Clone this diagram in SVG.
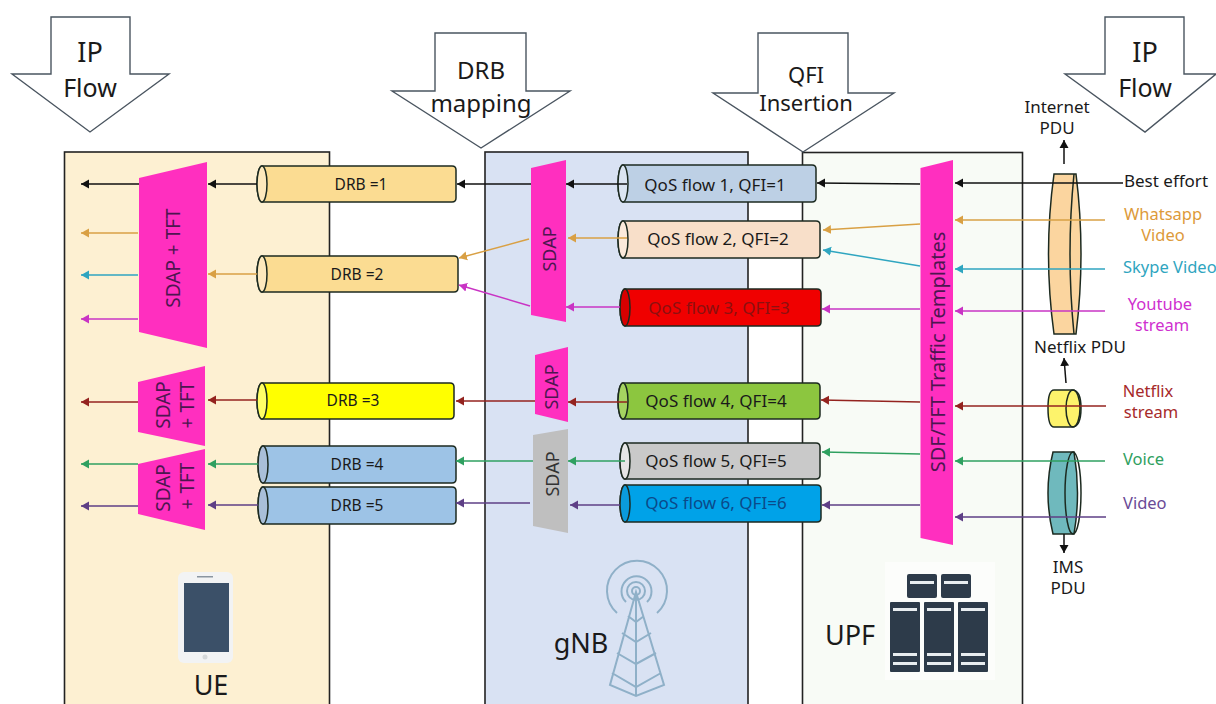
<svg xmlns="http://www.w3.org/2000/svg" width="1216" height="704" viewBox="0 0 1216 704">
<style>
text{font-family:"Noto Sans","Open Sans","Liberation Sans",sans-serif;fill:#1a1a1a}
.m{text-anchor:middle}
.big{font-size:27px}.arr{font-size:24px}.lab{font-size:15.5px}.q{font-size:17px}.o16{font-size:16.5px}.s{font-size:17px}
.side{font-size:18px;text-anchor:middle;dominant-baseline:central;fill:#4d1650}
.pane{stroke:#222;stroke-width:1.6}
.ar{fill:#fff;stroke:#4a5560;stroke-width:1.4}
.cy{stroke:#1c2a20;stroke-width:1.5}
.pk{fill:#ff2fbf}
.sv{fill:#2d3b4a}.st{fill:#e8edf0}
.tw{fill:none;stroke:#8fb0c8;stroke-width:2}
line,polyline{fill:none;stroke-width:1.5}
.k{stroke:#111;marker-end:url(#mk)}.o{stroke:#d9a044;marker-end:url(#mo)}.b{stroke:#2fa5c0;marker-end:url(#mb)}
.p{stroke:#c934c4;marker-end:url(#mp)}.r{stroke:#94231f;marker-end:url(#mr)}.g{stroke:#2fa060;marker-end:url(#mg)}.v{stroke:#5e3f86;marker-end:url(#mv)}
</style>
<defs>
<marker id="mk" markerUnits="userSpaceOnUse" markerWidth="9" markerHeight="10" refX="8" refY="5" orient="auto"><path d="M8,5L0,0.5V9.5Z" fill="#111"/></marker>
<marker id="mo" markerUnits="userSpaceOnUse" markerWidth="9" markerHeight="10" refX="8" refY="5" orient="auto"><path d="M8,5L0,0.5V9.5Z" fill="#d9a044"/></marker>
<marker id="mb" markerUnits="userSpaceOnUse" markerWidth="9" markerHeight="10" refX="8" refY="5" orient="auto"><path d="M8,5L0,0.5V9.5Z" fill="#2fa5c0"/></marker>
<marker id="mp" markerUnits="userSpaceOnUse" markerWidth="9" markerHeight="10" refX="8" refY="5" orient="auto"><path d="M8,5L0,0.5V9.5Z" fill="#c934c4"/></marker>
<marker id="mr" markerUnits="userSpaceOnUse" markerWidth="9" markerHeight="10" refX="8" refY="5" orient="auto"><path d="M8,5L0,0.5V9.5Z" fill="#94231f"/></marker>
<marker id="mg" markerUnits="userSpaceOnUse" markerWidth="9" markerHeight="10" refX="8" refY="5" orient="auto"><path d="M8,5L0,0.5V9.5Z" fill="#2fa060"/></marker>
<marker id="mv" markerUnits="userSpaceOnUse" markerWidth="9" markerHeight="10" refX="8" refY="5" orient="auto"><path d="M8,5L0,0.5V9.5Z" fill="#5e3f86"/></marker>
</defs>
<rect width="1216" height="704" fill="#fff"/>

<g id="ue"><rect class="pane" x="64.5" y="152" width="265" height="570" fill="#fdf0d2"/>
<rect x="178" y="572" width="55" height="91" rx="6" fill="#f2f3f4"/><rect x="184" y="583" width="45" height="69" fill="#3b5068"/><circle cx="205" cy="657" r="2.5" fill="#d5d8da"/><rect x="197" y="576" width="16" height="1.5" fill="#8a95a0"/>
<text class="big m" x="211" y="695">UE</text></g>
<g id="gnb"><rect class="pane" x="485" y="152" width="263" height="570" fill="#d9e2f3"/>
<g id="tower"><path class="tw" d="M636,592L610,685L636,696L664,685Z M636,592V696 M628,616L636,622L644,616 M622,633L636,642L651,633 M617,653L636,664L656,653 M612,673L636,687L661,673"/><path class="tw" d="M617,613A30,30 0 1 1 657,613 M626,602A15,15 0 1 1 647,602"/><circle class="tw" cx="636" cy="591" r="9"/><circle class="tw" cx="636" cy="591" r="4"/></g>
<text class="big m" x="581" y="653">gNB</text></g>
<g id="upf"><rect class="pane" x="802.5" y="152.5" width="220" height="570" fill="#f8fbf6"/>
<rect x="885" y="562" width="110" height="118" fill="#fcfdfb"/>
<g id="servers"><rect class="sv" x="907" y="574" width="30" height="24" rx="2"/><rect class="sv" x="941" y="574" width="30" height="24" rx="2"/><rect class="sv" x="890" y="602" width="30" height="70" rx="1"/><rect class="sv" x="924" y="602" width="30" height="70" rx="1"/><rect class="sv" x="958" y="602" width="30" height="70" rx="1"/>
<rect class="st" x="910" y="581" width="24" height="3"/><rect class="st" x="944" y="581" width="24" height="3"/>
<rect class="st" x="893" y="608" width="24" height="3"/><rect class="st" x="927" y="608" width="24" height="3"/><rect class="st" x="961" y="608" width="24" height="3"/>
<rect class="st" x="893" y="653" width="24" height="3"/><rect class="st" x="927" y="653" width="24" height="3"/><rect class="st" x="961" y="653" width="24" height="3"/>
<rect class="st" x="893" y="662" width="24" height="3"/><rect class="st" x="927" y="662" width="24" height="3"/><rect class="st" x="961" y="662" width="24" height="3"/></g>
<text class="big" x="825" y="645">UPF</text></g>

<g id="arrow-ip-left"><path class="ar" d="M51,17H130V74H169L90,132L12,74H51Z"/><text class="big m" x="90" y="62">IP</text><text class="big m" x="90" y="97" style="font-size:25px">Flow</text></g>
<g id="arrow-drb"><path class="ar" d="M435,33H526V91H570L481,148L392,91H435Z"/><text class="arr m" x="481" y="79">DRB</text><text class="arr m" x="481" y="112">mapping</text></g>
<g id="arrow-qfi"><path class="ar" d="M758,33H848V93H894L803,152L713,93H758Z"/><text class="arr m" x="806" y="83" style="font-size:22px">QFI</text><text class="arr m" x="806" y="111" style="font-size:22px">Insertion</text></g>
<g id="arrow-ip-right"><path class="ar" d="M1105,17H1184V74H1216L1145,132L1065,74H1105Z"/><text class="big m" x="1145" y="62">IP</text><text class="big m" x="1145" y="97" style="font-size:25px">Flow</text></g>

<g id="sdap-tft-1"><path class="pk" d="M139,178L207,162V348L139,332Z"/><text class="side" transform="translate(172.500 258) rotate(-90)" style="font-size:19px">SDAP + TFT</text></g>
<g id="sdap-tft-2"><path class="pk" d="M138,382L205,366V446L138,432Z"/><text class="side" transform="translate(163 405) rotate(-90)" style="font-size:19px">SDAP</text><text class="side" transform="translate(187 405) rotate(-90)" style="font-size:19px">+ TFT</text></g>
<g id="sdap-tft-3"><path class="pk" d="M138,464L205,449V530L138,514Z"/><text class="side" transform="translate(163 488) rotate(-90)" style="font-size:19px">SDAP</text><text class="side" transform="translate(187 486) rotate(-90)" style="font-size:19px">+ TFT</text></g>
<g id="sdap-1"><path class="pk" d="M531,168L566,160V322L531,315Z"/><text class="side" transform="translate(549 249) rotate(-90)">SDAP</text></g>
<g id="sdap-2"><path class="pk" d="M535,355L568,347V422L535,414Z"/><text class="side" transform="translate(551 387) rotate(-90)">SDAP</text></g>
<g id="sdap-3"><path fill="#bfbfbf" d="M533,435L568,429V533L533,526Z"/><text class="side" transform="translate(552 474) rotate(-90)" style="fill:#333">SDAP</text></g>
<g id="sdf-tft"><path class="pk" d="M920.500,168L953,160V545L920.500,538Z"/><text class="side" transform="translate(937 352) rotate(-90)" style="font-size:20px">SDF/TFT Traffic Templates</text></g>

<g id="drb-1"><path class="cy" fill="#fbdc92" d="M262,166H452Q456,166 456,170V198Q456,202 452,202H262A5,18 0 0 1 262,166Z"/><ellipse class="cy" cx="262" cy="184" rx="5" ry="18" fill="#fde9bd"/><text class="lab m" x="361" y="190">DRB =1</text></g>
<g id="drb-2"><path class="cy" fill="#fbdc92" d="M262,256H454Q458,256 458,260V288Q458,292 454,292H262A5,18 0 0 1 262,256Z"/><ellipse class="cy" cx="262" cy="274" rx="5" ry="18" fill="#fde9bd"/><text class="lab m" x="357" y="280">DRB =2</text></g>
<g id="drb-3"><path class="cy" fill="#ffff00" d="M262,383H450Q454,383 454,387V415Q454,419 450,419H262A5,18 0 0 1 262,383Z"/><ellipse class="cy" cx="262" cy="401" rx="5" ry="18" fill="#ffff66"/><text class="lab m" x="353" y="406">DRB =3</text></g>
<g id="drb-4"><path class="cy" fill="#9dc3e6" d="M263,446H452Q456,446 456,450V479Q456,483 452,483H263A5,18.500 0 0 1 263,446Z"/><ellipse class="cy" cx="263" cy="464.500" rx="5" ry="18.500" fill="#a9bfd8"/><text class="lab m" x="357" y="470">DRB =4</text></g>
<g id="drb-5"><path class="cy" fill="#9dc3e6" d="M263,487H452Q456,487 456,491V520Q456,524 452,524H263A5,18.500 0 0 1 263,487Z"/><ellipse class="cy" cx="263" cy="505.500" rx="5" ry="18.500" fill="#a9bfd8"/><text class="lab m" x="357" y="511">DRB =5</text></g>

<g id="qos-1"><path class="cy" fill="#bdd0e5" d="M623,165H812Q816,165 816,169V198Q816,202 812,202H623A5,18.500 0 0 1 623,165Z"/><ellipse class="cy" cx="623" cy="183.500" rx="5" ry="18.500" fill="#dbe5f1"/><text class="q m" x="715" y="191">QoS flow 1, QFI=1</text></g>
<g id="qos-2"><path class="cy" fill="#f8dfc9" d="M623,221H816Q820,221 820,225V254Q820,258 816,258H623A5,18.500 0 0 1 623,221Z"/><ellipse class="cy" cx="623" cy="239.500" rx="5" ry="18.500" fill="#fbeadb"/><text class="q m" x="718" y="245">QoS flow 2, QFI=2</text></g>
<g id="qos-3"><path class="cy" fill="#f00000" d="M625,289H817Q821,289 821,293V322Q821,326 817,326H625A5,18.500 0 0 1 625,289Z"/><ellipse class="cy" cx="625" cy="307.500" rx="5" ry="18.500" fill="#d80000"/><text class="q m" x="719" y="314" style="fill:#8c1010">QoS flow 3, QFI=3</text></g>
<g id="qos-4"><path class="cy" fill="#8cc63f" d="M623,383H816Q820,383 820,387V415Q820,419 816,419H623A5,18 0 0 1 623,383Z"/><ellipse class="cy" cx="623" cy="401" rx="5" ry="18" fill="#a5d361"/><text class="q m" x="716" y="407">QoS flow 4, QFI=4</text></g>
<g id="qos-5"><path class="cy" fill="#c9c9c9" d="M625,443H816Q820,443 820,447V475Q820,479 816,479H625A5,18 0 0 1 625,443Z"/><ellipse class="cy" cx="625" cy="461" rx="5" ry="18" fill="#e6e6e6"/><text class="q m" x="716" y="467">QoS flow 5, QFI=5</text></g>
<g id="qos-6"><path class="cy" fill="#00a2e8" d="M625,485H817Q821,485 821,489V518Q821,522 817,522H625A5,18.500 0 0 1 625,485Z"/><ellipse class="cy" cx="625" cy="503.500" rx="5" ry="18.500" fill="#0a9bdc"/><text class="q m" x="716" y="509" style="fill:#0b4a8a">QoS flow 6, QFI=6</text></g>

<g id="pdu-internet"><path class="cy" fill="#fbd59f" d="M1054,174H1076Q1086,254 1076,334H1054Q1043,254 1054,174Z"/><path class="cy" fill="none" d="M1074,174Q1066,254 1074,334"/></g>
<g id="pdu-netflix"><path class="cy" fill="#fdf36b" d="M1054,390H1072Q1081,390 1081,408Q1081,427 1072,427H1054Q1048,427 1048,408Q1048,390 1054,390Z"/><ellipse class="cy" fill="none" cx="1073" cy="408.500" rx="7" ry="18.500"/></g>
<g id="pdu-ims"><path class="cy" fill="#6fb9bd" d="M1053,452H1074Q1081,493 1074,534H1053Q1043,493 1053,452Z"/><ellipse class="cy" fill="none" cx="1073" cy="493" rx="8" ry="41"/></g>

<g id="connectors">
<line class="k" x1="139" y1="184" x2="81" y2="184"/><line class="k" x1="257" y1="184" x2="208" y2="184"/><line class="k" x1="531" y1="184" x2="457" y2="184"/><line class="k" x1="627" y1="184" x2="566" y2="184"/><line class="k" x1="920" y1="184" x2="817" y2="183"/><line class="k" x1="1123" y1="183" x2="955" y2="183"/>
<line class="o" x1="138" y1="233" x2="81" y2="233"/><line class="o" x1="257" y1="274" x2="208" y2="274"/><line class="o" x1="529" y1="239" x2="459" y2="258"/><line class="o" x1="627" y1="238" x2="568" y2="238"/><line class="o" x1="920" y1="224" x2="823" y2="230"/><line class="o" x1="1105" y1="220" x2="955" y2="220"/>
<line class="b" x1="138" y1="275" x2="81" y2="275"/><line class="b" x1="920" y1="266" x2="823" y2="250"/><line class="b" x1="1105" y1="269" x2="955" y2="269"/>
<line class="p" x1="138" y1="319" x2="81" y2="319"/><line class="p" x1="530" y1="306" x2="459" y2="285"/><line class="p" x1="620" y1="307" x2="566" y2="307"/><line class="p" x1="920" y1="309" x2="822" y2="309"/><line class="p" x1="1105" y1="311" x2="955" y2="311"/>
<line class="r" x1="138" y1="402" x2="81" y2="402"/><line class="r" x1="257" y1="400" x2="208" y2="400"/><line class="r" x1="535" y1="401" x2="456" y2="401"/><line class="r" x1="627" y1="402" x2="568" y2="402"/><line class="r" x1="920" y1="402" x2="821" y2="400"/><line class="r" x1="1106" y1="406" x2="955" y2="406"/>
<line class="g" x1="138" y1="464" x2="81" y2="464"/><line class="g" x1="258" y1="464" x2="208" y2="464"/><line class="g" x1="533" y1="461" x2="456" y2="461"/><line class="g" x1="625" y1="461" x2="568" y2="461"/><line class="g" x1="920" y1="454" x2="822" y2="452"/><line class="g" x1="1105" y1="461" x2="955" y2="461"/>
<line class="v" x1="138" y1="506" x2="81" y2="506"/><line class="v" x1="258" y1="505" x2="208" y2="505"/><line class="v" x1="530" y1="503" x2="456" y2="503"/><line class="v" x1="620" y1="505" x2="570" y2="505"/><line class="v" x1="920" y1="505" x2="822" y2="505"/><line class="v" x1="1106" y1="517" x2="955" y2="517"/>
<line class="k" x1="1064" y1="164" x2="1064" y2="140"/><line class="k" x1="1066" y1="383" x2="1064" y2="358"/><line class="k" x1="1064" y1="534" x2="1064" y2="553"/>
</g>

<g id="labels">
<text class="s m" x="1057" y="113">Internet</text><text class="s m" x="1057" y="134">PDU</text>
<text class="q m" x="1166" y="187">Best effort</text>
<text class="o16 m" x="1163" y="220" style="fill:#dd9a3a">Whatsapp</text><text class="o16 m" x="1163" y="241" style="fill:#dd9a3a">Video</text>
<text class="o16" x="1123" y="273" style="fill:#2fa5c0">Skype Video</text>
<text class="o16 m" x="1160" y="310" style="fill:#cf2fcf">Youtube</text><text class="o16 m" x="1162" y="331" style="fill:#cf2fcf">stream</text>
<text class="s m" x="1080" y="353">Netflix PDU</text>
<text class="o16 m" x="1148" y="397" style="fill:#a62a2a">Netflix</text><text class="o16 m" x="1151" y="418" style="fill:#a62a2a">stream</text>
<text class="o16" x="1123" y="465" style="fill:#2fa060">Voice</text>
<text class="o16" x="1123" y="509" style="fill:#6a4a96">Video</text>
<text class="s m" x="1068" y="573">IMS</text><text class="s m" x="1068" y="594">PDU</text>
</g>
</svg>
